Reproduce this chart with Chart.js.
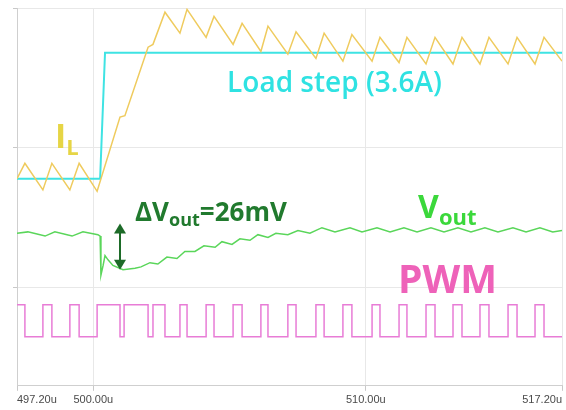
<!DOCTYPE html>
<html>
<head>
<meta charset="utf-8">
<script src="https://cdn.jsdelivr.net/npm/chart.js@4.4.0/dist/chart.umd.min.js"></script>
<style>
  body { margin: 0; background: #fff; }
  #wrap { width: 566px; height: 410px; position: relative; }
</style>
</head>
<body>
<div id="wrap"><canvas id="chart-wave"></canvas></div>
<script>
// time axis in microseconds, y axis in % of a division
const xTicks = [497.2, 500, 510, 517.2];
const yGrid = [0, 100, 200];

// load step (cyan)
const loadTime = [497.20, 500.25, 500.43, 517.20];
const loadVal = [78, 78, 168, 168];

// inductor current I_L (yellow)
const ilTime = [497.20, 497.49, 498.15, 498.48, 499.14, 499.48, 500.14, 500.98, 501.16, 502.01,
    502.19, 502.63, 503.18, 503.44, 504.14, 504.43, 505.13, 505.46, 506.15, 506.41,
    507.14, 507.44, 508.17, 508.47, 509.16, 509.49, 510.23, 510.52, 511.22, 511.51,
    512.21, 512.54, 513.20, 513.53, 514.19, 514.52, 515.22, 515.55, 516.21, 516.54, 517.20];
const ilVal = [78, 89, 70, 89, 70, 89, 69, 122, 123, 172,
    174, 197, 182, 199, 179, 194, 174, 189, 169, 187,
    167, 183, 164, 182, 162, 181, 162, 179, 161, 179,
    160, 179, 160, 179, 160, 179, 160, 179, 160, 179, 162];

// output voltage (green)
const voutTime = [497.20, 497.60, 498.23, 498.59, 499.22, 499.62, 500.17, 500.25, 500.28, 500.36,
    500.43, 500.54, 500.72, 501.09, 501.53, 501.75, 502.08, 502.37, 502.70, 503.07,
    503.36, 503.73, 504.06, 504.47, 504.72, 505.09, 505.38, 505.75, 506.04, 506.41,
    506.70, 507.14, 507.51, 507.95, 508.39, 508.87, 509.42, 509.86, 510.41, 510.89,
    511.40, 511.88, 512.39, 512.87, 513.38, 513.86, 514.37, 514.85, 515.40, 515.88,
    516.39, 516.86, 517.20];
const voutVal = [39, 40, 37, 40, 37, 40, 38, 37, 9, 16,
    23, 20, 16, 13, 14, 15, 18, 17, 22, 21,
    26, 26, 30, 29, 33, 31, 35, 34, 38, 36,
    39, 38, 41, 39, 43, 40, 43, 40, 43, 40,
    43, 40, 43, 40, 43, 40, 43, 40, 43, 40,
    43, 40, 41];

// PWM edges (level holds until next edge)
const pwmTime = [497.20, 497.49, 498.15, 498.48, 499.14, 499.48, 500.14, 500.98, 501.13, 502.01,
    502.19, 502.63, 503.18, 503.44, 504.14, 504.43, 505.13, 505.46, 506.15, 506.41,
    507.14, 507.44, 508.17, 508.47, 509.16, 509.49, 510.23, 510.52, 511.22, 511.51,
    512.21, 512.54, 513.20, 513.53, 514.19, 514.52, 515.22, 515.55, 516.21, 516.54, 517.20];
const pwmVal = [-12, -35, -12, -35, -12, -35, -12, -35, -12, -35,
    -12, -35, -12, -35, -12, -35, -12, -35, -12, -35,
    -12, -35, -12, -35, -12, -35, -12, -35, -12, -35,
    -12, -35, -12, -35, -12, -35, -12, -35, -12, -35, -35];

const textFont = "'Open Sans', sans-serif";

function toPoints(xs, ys) {
    return xs.map((t, i) => ({ x: t, y: ys[i] }));
}

// text with a subscript, drawn at data coordinates
function drawSubText(ctx, px, py, main, sub, tail, size, subSize, color) {
    ctx.fillStyle = color;
    ctx.textBaseline = 'alphabetic';
    ctx.textAlign = 'left';
    ctx.font = `bold ${size}px ${textFont}`;
    ctx.fillText(main, px, py);
    let cx = px + ctx.measureText(main).width;
    ctx.font = `bold ${subSize}px ${textFont}`;
    ctx.fillText(sub, cx, py + size * 0.22);
    cx += ctx.measureText(sub).width;
    if (tail) {
        ctx.font = `bold ${size}px ${textFont}`;
        ctx.fillText(tail, cx, py);
    }
}

const notesPlugin = {
    id: 'notes',
    afterDatasetsDraw(chart) {
        const { ctx, scales: { x, y } } = chart;
        ctx.save();

        // I_L label
        drawSubText(ctx, x.getPixelForValue(498.59), y.getPixelForValue(100), 'I', 'L', '', 34, 22, '#e6d545');

        // load step label
        ctx.fillStyle = '#2fe2e2';
        ctx.font = `600 28px ${textFont}`;
        ctx.textAlign = 'left';
        ctx.fillText('Load step (3.6A)', x.getPixelForValue(504.91), y.getPixelForValue(140));

        // delta Vout label
        drawSubText(ctx, x.getPixelForValue(501.53), y.getPixelForValue(48), 'ΔV', 'out', '=26mV', 26, 18, '#217a2e');

        // Vout label
        drawSubText(ctx, x.getPixelForValue(511.92), y.getPixelForValue(50), 'V', 'out', '', 32, 22, '#3bd83b');

        // PWM label
        ctx.fillStyle = '#ee62b9';
        ctx.font = `bold 39px ${textFont}`;
        ctx.fillText('PWM', x.getPixelForValue(511.18), y.getPixelForValue(-3.5));

        // double arrow for the dip
        const ax = x.getPixelForValue(500.98);
        const ay1 = y.getPixelForValue(46);
        const ay2 = y.getPixelForValue(13);
        ctx.strokeStyle = '#1d6b28';
        ctx.fillStyle = '#1d6b28';
        ctx.lineWidth = 2;
        ctx.beginPath();
        ctx.moveTo(ax, ay1 + 8);
        ctx.lineTo(ax, ay2 - 8);
        ctx.stroke();
        ctx.beginPath();
        ctx.moveTo(ax, ay1);
        ctx.lineTo(ax - 6, ay1 + 10);
        ctx.lineTo(ax + 6, ay1 + 10);
        ctx.closePath();
        ctx.fill();
        ctx.beginPath();
        ctx.moveTo(ax, ay2);
        ctx.lineTo(ax - 6, ay2 - 10);
        ctx.lineTo(ax + 6, ay2 - 10);
        ctx.closePath();
        ctx.fill();

        ctx.restore();
    }
};

const ctx = document.getElementById('chart-wave').getContext('2d');
const myChart = new Chart(ctx, {
    type: 'line',
    data: {
        datasets: [{
            label: 'Load step',
            data: toPoints(loadTime, loadVal),
            borderColor: '#3fe3e3',
            borderWidth: 2,
            order: 2,
        },
        {
            label: 'IL',
            data: toPoints(ilTime, ilVal),
            borderColor: '#efcb5e',
            borderWidth: 1.5,
            order: 1,
        },
        {
            label: 'Vout',
            data: toPoints(voutTime, voutVal),
            borderColor: '#5ad65a',
            borderWidth: 1.5,
            order: 3,
        },
        {
            label: 'PWM',
            data: toPoints(pwmTime, pwmVal),
            borderColor: '#e87cd6',
            borderWidth: 1.5,
            stepped: 'before',
            order: 4,
        }]
    },
    options: {
        responsive: true,
        maintainAspectRatio: false,
        animation: false,
        layout: { padding: { left: 13, top: 8, right: 4, bottom: 0 } },
        elements: { point: { radius: 0 }, line: { tension: 0 } },
        plugins: { legend: { display: false }, tooltip: { enabled: false } },
        scales: {
            x: {
                type: 'linear',
                min: 497.2,
                max: 517.2,
                afterBuildTicks: (scale) => { scale.ticks = xTicks.map(v => ({ value: v })); },
                ticks: {
                    align: 'inner',
                    maxRotation: 0,
                    padding: 3,
                    color: '#4a4a4a',
                    font: { family: "'Liberation Sans', Arial, sans-serif", size: 11 },
                    callback: (v) => Number(v).toFixed(2) + 'u',
                },
                grid: { color: '#e8e8e8', tickLength: 5, tickColor: '#c8c8c8' },
                border: { color: '#cfcfcf' },
            },
            y: {
                type: 'linear',
                min: -70,
                max: 200,
                afterBuildTicks: (scale) => { scale.ticks = yGrid.map(v => ({ value: v })); },
                ticks: { display: false },
                grid: { color: '#e8e8e8', tickLength: 4, tickColor: '#c8c8c8' },
                border: { color: '#cfcfcf' },
            }
        }
    },
    plugins: [notesPlugin]
});
</script>
</body>
</html>
